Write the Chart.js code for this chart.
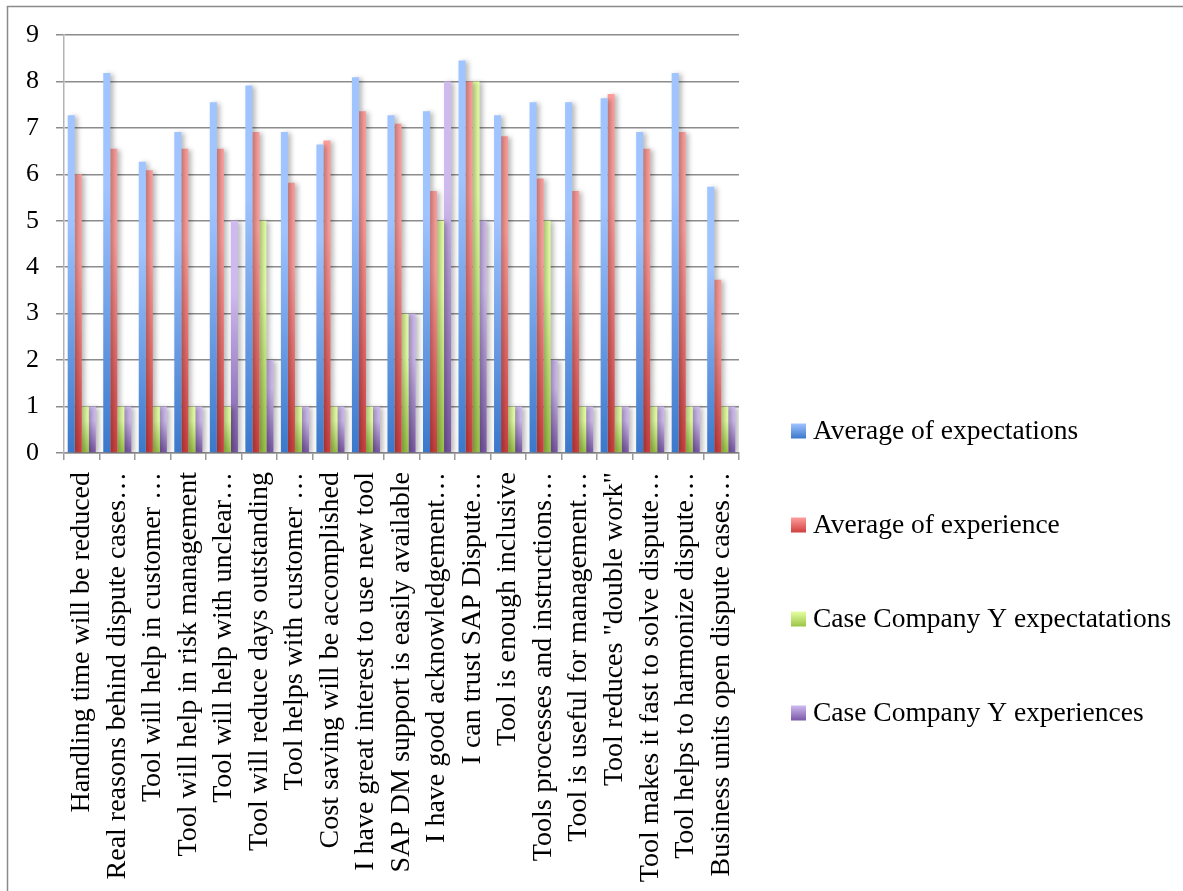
<!DOCTYPE html>
<html>
<head>
<meta charset="utf-8">
<title>Expectations vs experience</title>
<script src="https://cdn.jsdelivr.net/npm/chart.js@4.4.0/dist/chart.umd.min.js"></script>
<style>
  html, body { margin: 0; padding: 0; background: #fff; }
  #wrap { width: 1183px; height: 891px; }
</style>
</head>
<body>
<div id="wrap"><canvas id="survey"></canvas></div>
<script>
var statements = [
    'Handling time will be reduced',
    'Real reasons behind dispute cases\u2026',
    'Tool will help in customer \u2026',
    'Tool will help in risk management',
    'Tool will help with unclear\u2026',
    'Tool will reduce days outstanding',
    'Tool helps with customer \u2026',
    'Cost saving will be accomplished',
    'I have great interest to use new tool',
    'SAP DM support is easily available',
    'I have good acknowledgement\u2026',
    'I can trust SAP Dispute\u2026',
    'Tool is enough inclusive',
    'Tools processes and instructions\u2026',
    'Tool is useful for management\u2026',
    'Tool reduces "double work"',
    'Tool makes it fast to solve dispute\u2026',
    'Tool helps to harmonize dispute\u2026',
    'Business units open dispute cases\u2026'
];

var seriesNames = [
    'Average of expectations',
    'Average of experience',
    'Case Company Y expectatations',
    'Case Company Y experiences'
];

var avgExpectations = [7.27, 8.18, 6.27, 6.91, 7.55, 7.91, 6.91, 6.64, 8.09, 7.27,
                       7.36, 8.45, 7.27, 7.55, 7.55, 7.64, 6.91, 8.18, 5.73];
var avgExperience   = [6.00, 6.55, 6.09, 6.55, 6.55, 6.91, 5.82, 6.73, 7.36, 7.09,
                       5.64, 8.00, 6.82, 5.91, 5.64, 7.73, 6.55, 6.91, 3.73];
var caseYExpect     = [1, 1, 1, 1, 1, 5, 1, 1, 1, 3, 5, 8, 1, 5, 1, 1, 1, 1, 1];
var caseYExperience = [1, 1, 1, 1, 5, 2, 1, 1, 1, 3, 8, 5, 1, 2, 1, 1, 1, 1, 1];

var yTicks = [0, 1, 2, 3, 4, 5, 6, 7, 8, 9];

// light top / dark bottom for each series
var shades = [
    ['#a0c4ff', '#3a78cb'],
    ['#ff9e9b', '#cf3f3f'],
    ['#e4ffa2', '#9cc446'],
    ['#cfbaf0', '#7a58a6']
];

var serif = '"Liberation Serif", "Times New Roman", serif';

function barFill(i) {
    var top = shades[i][0], bottom = shades[i][1];
    return function(ctx) {
        var chart = ctx.chart;
        var y = chart.scales && chart.scales.y;
        if (!y || !ctx.parsed || !chart.chartArea) return bottom;
        var y0 = y.getPixelForValue(ctx.parsed.y);
        var y1 = y.getPixelForValue(0);
        if (!isFinite(y0) || !isFinite(y1) || y1 - y0 < 1) return bottom;
        var g = chart.ctx.createLinearGradient(0, y0, 0, y1);
        g.addColorStop(0, top);
        g.addColorStop(0.3, top);
        g.addColorStop(1, bottom);
        return g;
    };
}

// white page with the grey frame along the top and left
var frame = {
    id: 'frame',
    beforeDraw: function(chart) {
        var c = chart.ctx;
        c.save();
        c.fillStyle = '#fff';
        c.fillRect(0, 0, chart.width, chart.height);
        c.strokeStyle = '#8a8a8a';
        c.lineWidth = 1.5;
        c.beginPath();
        c.moveTo(7.5, chart.height + 2);
        c.lineTo(7.5, 6.5);
        c.lineTo(chart.width + 2, 6.5);
        c.stroke();
        c.restore();
    }
};

// soft drop shadow behind the bars
var barShadow = {
    id: 'barShadow',
    beforeDatasetsDraw: function(chart) {
        var c = chart.ctx;
        c.save();
        c.shadowColor = 'rgba(0,0,0,0.28)';
        c.shadowBlur = 5;
        c.shadowOffsetX = 3;
        c.shadowOffsetY = 1;
    },
    afterDatasetsDraw: function(chart) {
        chart.ctx.restore();
    }
};

// legend column on the right
var sideLegend = {
    id: 'sideLegend',
    afterDraw: function(chart) {
        var c = chart.ctx;
        var x = chart.chartArea.right + 52;
        var y = 431, step = 94, box = 15;
        c.save();
        c.font = '27.5px ' + serif;
        c.textBaseline = 'middle';
        chart.data.datasets.forEach(function(ds, i) {
            var cy = y + i * step;
            var g = c.createLinearGradient(0, cy - box / 2, 0, cy + box / 2);
            g.addColorStop(0, shades[i][0]);
            g.addColorStop(1, shades[i][1]);
            c.fillStyle = g;
            c.fillRect(x, cy - box / 2, box, box);
            c.fillStyle = '#000';
            c.fillText(ds.label, x + box + 7, cy + 1);
        });
        c.restore();
    }
};

var seriesData = [avgExpectations, avgExperience, caseYExpect, caseYExperience];

new Chart(document.getElementById('survey'), {
    type: 'bar',
    data: {
        labels: statements,
        datasets: seriesData.map(function(values, i) {
            return {
                label: seriesNames[i],
                data: values,
                backgroundColor: barFill(i),
                borderWidth: 0,
                categoryPercentage: 0.79,
                barPercentage: 1.0
            };
        })
    },
    options: {
        responsive: true,
        maintainAspectRatio: false,
        animation: false,
        layout: { padding: { top: 35, right: 444, left: 0, bottom: 0 } },
        plugins: {
            legend: { display: false },
            tooltip: { enabled: false }
        },
        scales: {
            x: {
                offset: true,
                grid: {
                    drawOnChartArea: false,
                    tickLength: 7,
                    color: '#9a9a9a',
                    lineWidth: 1.5
                },
                border: { color: '#8c8c8c', width: 1.5 },
                ticks: {
                    autoSkip: false,
                    minRotation: 90,
                    maxRotation: 90,
                    padding: 12,
                    color: '#000',
                    font: { family: serif, size: 28 }
                },
                afterFit: function(scale) { scale.height = 438; }
            },
            y: {
                min: 0,
                max: 9,
                afterBuildTicks: function(scale) {
                    scale.ticks = yTicks.map(function(v) { return { value: v }; });
                },
                grid: {
                    color: '#8c8c8c',
                    lineWidth: 1.5,
                    tickLength: 8
                },
                border: { color: '#b4b4b4', width: 1.5 },
                ticks: {
                    padding: 17,
                    color: '#000',
                    font: { family: serif, size: 26 }
                },
                afterFit: function(scale) { scale.width = 64; }
            }
        }
    },
    plugins: [frame, barShadow, sideLegend]
});
</script>
</body>
</html>
